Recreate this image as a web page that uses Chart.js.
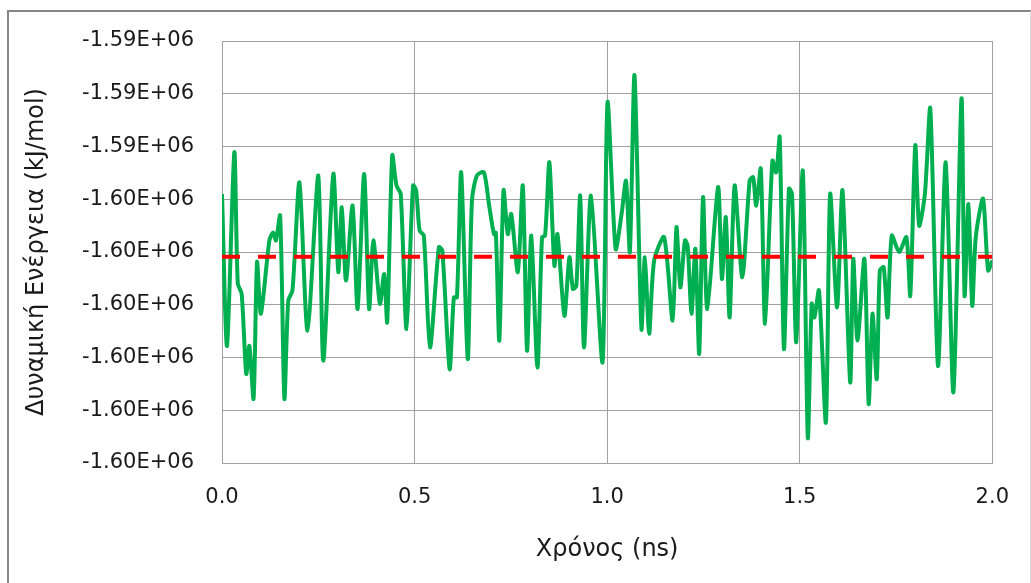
<!DOCTYPE html>
<html>
<head>
<meta charset="utf-8">
<script src="https://cdn.jsdelivr.net/npm/chart.js@4.4.1/dist/chart.umd.min.js"></script>
<style>
    html, body { margin: 0; padding: 0; background: #fff; }
    #wrap { position: relative; width: 1031px; height: 583px; overflow: hidden; }
    #frame {
        position: absolute; left: 7px; top: 10px; width: 1021px; height: 600px;
        border-left: 2px solid #868686; border-top: 2px solid #868686; border-right: 1px solid #d9d9d9;
    }
    canvas { position: absolute; left: 0; top: 0; }
</style>
</head>
<body>
<div id="wrap">
    <div id="frame"></div>
    <canvas id="energyChart" width="1031" height="583"></canvas>
</div>
<script>
// Time (ns) and potential energy (kJ/mol)
const timeNs = [
    0.000, 0.013, 0.032, 0.041, 0.051, 0.063, 0.071, 0.082, 0.091, 0.101,
    0.123, 0.133, 0.140, 0.151, 0.162, 0.172, 0.183, 0.201, 0.222, 0.250,
    0.263, 0.289, 0.302, 0.311, 0.322, 0.339, 0.352, 0.369, 0.382, 0.393,
    0.410, 0.421, 0.429, 0.442, 0.453, 0.464, 0.479, 0.496, 0.504, 0.513,
    0.524, 0.540, 0.563, 0.572, 0.591, 0.602, 0.610, 0.621, 0.638, 0.649,
    0.662, 0.680, 0.693, 0.706, 0.711, 0.720, 0.731, 0.742, 0.751, 0.768,
    0.781, 0.792, 0.803, 0.819, 0.831, 0.839, 0.850, 0.863, 0.871, 0.889,
    0.902, 0.911, 0.920, 0.930, 0.940, 0.958, 0.988, 1.001, 1.022, 1.038,
    1.049, 1.059, 1.071, 1.089, 1.098, 1.109, 1.122, 1.148, 1.170, 1.180,
    1.190, 1.202, 1.209, 1.219, 1.229, 1.239, 1.249, 1.260, 1.288, 1.298,
    1.308, 1.318, 1.331, 1.351, 1.370, 1.379, 1.387, 1.399, 1.410, 1.429,
    1.439, 1.448, 1.459, 1.472, 1.480, 1.491, 1.508, 1.521, 1.531, 1.538,
    1.550, 1.568, 1.579, 1.597, 1.611, 1.631, 1.639, 1.650, 1.668, 1.679,
    1.689, 1.700, 1.708, 1.718, 1.728, 1.739, 1.758, 1.777, 1.787, 1.800,
    1.810, 1.825, 1.839, 1.859, 1.879, 1.899, 1.920, 1.928, 1.938, 1.948,
    1.957, 1.976, 1.989, 2.000
];

const energy = [
    -1594900, -1597780, -1594110, -1596600, -1596790, -1598310, -1597780, -1598780, -1596190, -1597170,
    -1595780, -1595630, -1595780, -1595310, -1598780, -1596920, -1596730, -1594680, -1597490, -1594550,
    -1598060, -1594520, -1596380, -1595150, -1596540, -1595120, -1597080, -1594520, -1597080, -1595780,
    -1596980, -1596420, -1597330, -1594170, -1594740, -1594900, -1597460, -1594740, -1594830, -1595590,
    -1595690, -1597810, -1595910, -1595970, -1598220, -1596860, -1596860, -1594490, -1598030, -1595020,
    -1594550, -1594490, -1595090, -1595660, -1595630, -1597680, -1594830, -1595660, -1595280, -1596380,
    -1594740, -1597870, -1595690, -1598190, -1595720, -1595690, -1594300, -1596260, -1595660, -1597210,
    -1596100, -1596700, -1596640, -1594930, -1597810, -1594930, -1598090, -1593160, -1595940, -1595250,
    -1594650, -1596000, -1592650, -1597460, -1596100, -1597550, -1596160, -1595720, -1597300, -1595530,
    -1596670, -1595780, -1595880, -1597170, -1595940, -1597930, -1594960, -1597080, -1594770, -1596510,
    -1595340, -1597240, -1594740, -1596480, -1594650, -1594580, -1595120, -1594420, -1597360, -1594270,
    -1594490, -1593820, -1597840, -1594800, -1594900, -1597710, -1594460, -1599520, -1596980, -1597240,
    -1596730, -1599230, -1594900, -1597050, -1594830, -1598470, -1596130, -1597680, -1596130, -1598880,
    -1597170, -1598410, -1596350, -1596290, -1597240, -1595690, -1596000, -1595720, -1596830, -1593980,
    -1595500, -1594900, -1593280, -1598160, -1594300, -1598660, -1593090, -1596830, -1595090, -1597020,
    -1595720, -1594990, -1596350, -1596160
];

// Average energy (dashed red line)
const meanEnergy = -1596090;
const meanTime = [0, 2];

// Axis tick labels as printed on the original (bottom to top)
const yTickLabels = [
    '-1.60E+06', '-1.60E+06', '-1.60E+06', '-1.60E+06', '-1.60E+06',
    '-1.60E+06', '-1.59E+06', '-1.59E+06', '-1.59E+06'
];
const xTickLabels = ['0.0', '0.5', '1.0', '1.5', '2.0'];

const gridColor = '#a0a0a0';
const tickFont = { family: "'DejaVu Sans', sans-serif", size: 21 };
const titleFont = { family: "'DejaVu Sans', sans-serif", size: 24 };

const ctx = document.getElementById('energyChart');

new Chart(ctx, {
    type: 'line',
    data: {
        datasets: [{
            label: 'Μέση τιμή',
            data: meanTime.map(t => ({ x: t, y: meanEnergy })),
            borderColor: '#ff0000',
            borderWidth: 4,
            borderDash: [18, 18],
            pointRadius: 0,
            fill: false,
            order: 0
        }, {
            label: 'Δυναμική Ενέργεια',
            data: timeNs.map((t, i) => ({ x: t, y: energy[i] })),
            borderColor: '#00b050',
            borderWidth: 4,
            pointRadius: 0,
            tension: 0.25,
            fill: false,
            order: 1
        }]
    },
    options: {
        responsive: false,
        animation: false,
        layout: {
            padding: { left: 0, top: 41, right: 36, bottom: 0 }
        },
        plugins: {
            legend: { display: false },
            tooltip: { enabled: false }
        },
        scales: {
            x: {
                type: 'linear',
                min: 0,
                max: 2,
                afterFit: function(scale) { scale.height = 120; },
                grid: { color: gridColor, drawTicks: false },
                border: { color: gridColor },
                ticks: {
                    stepSize: 0.5,
                    padding: 22,
                    color: '#1a1a1a',
                    font: tickFont,
                    maxRotation: 0,
                    callback: function(value, index) { return xTickLabels[index]; }
                },
                title: {
                    display: true,
                    text: 'Χρόνος (ns)',
                    color: '#1a1a1a',
                    font: titleFont,
                    padding: { top: 0, bottom: 19 }
                }
            },
            y: {
                min: -1600000,
                max: -1592000,
                afterFit: function(scale) { scale.width = 222; },
                grid: { color: gridColor, drawTicks: false },
                border: { color: gridColor },
                ticks: {
                    stepSize: 1000,
                    padding: 28,
                    color: '#1a1a1a',
                    font: tickFont,
                    callback: function(value, index) { return yTickLabels[index]; }
                },
                title: {
                    display: true,
                    text: 'Δυναμική Ενέργεια (kJ/mol)',
                    color: '#1a1a1a',
                    font: titleFont,
                    padding: { top: 22, bottom: 0 }
                }
            }
        }
    }
});
</script>
</body>
</html>
